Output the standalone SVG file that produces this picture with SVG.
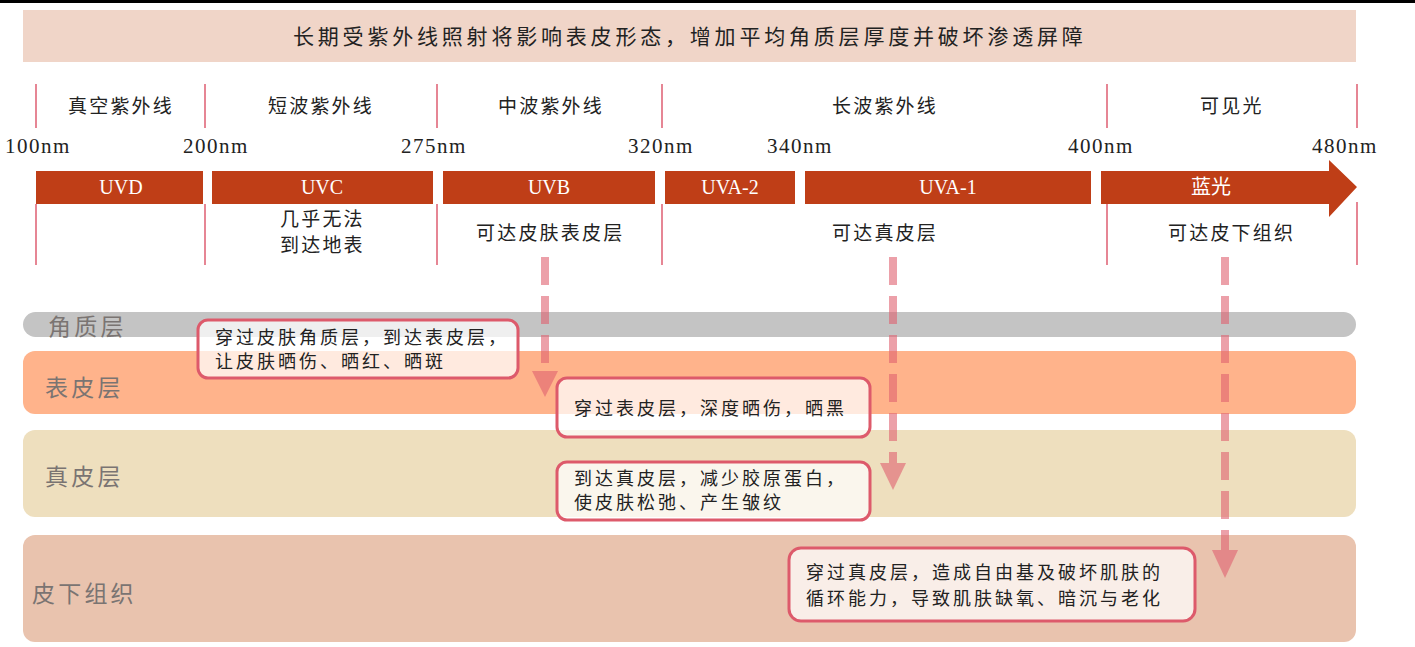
<svg xmlns="http://www.w3.org/2000/svg" width="1415" height="647" viewBox="0 0 1415 647">
<style>
.cn{font-family:"Noto Sans CJK SC","Liberation Serif",serif;fill:#222}
.num{font-family:"Liberation Serif",serif;fill:#222;font-size:21px;letter-spacing:1.5px;text-anchor:middle}
.bar{fill:#bf3e17}
.bl{font-family:"Liberation Serif","Noto Sans CJK SC",serif;fill:#fff;font-size:20px;text-anchor:middle}
.tick{stroke:#e0687a;stroke-width:1.6}
.hd{font-size:19px;letter-spacing:2.2px}
.lay{font-family:"Noto Sans CJK SC",serif;fill:#7a7472;font-size:23px;letter-spacing:3.2px}
.box{fill:#fff;fill-opacity:0.72;stroke:#dd5a6b;stroke-width:3}
.bt{font-size:18px;letter-spacing:3px}
.dash{stroke:#e06070;stroke-opacity:0.6;stroke-width:8;stroke-dasharray:28 11;fill:none}
.ah{fill:#e06070;fill-opacity:0.6}
</style>
<rect x="0" y="0" width="1415" height="3" fill="#000"/>
<g id="title">
<rect x="23" y="10" width="1333" height="52" fill="#f0d5c8"/>
<text class="cn" x="293" y="44" font-size="21" letter-spacing="3.8">长期受紫外线照射将影响表皮形态，增加平均角质层厚度并破坏渗透屏障</text>
</g>
<g id="ticks">
<line class="tick" x1="36" y1="84" x2="36" y2="128"/>
<line class="tick" x1="205" y1="84" x2="205" y2="128"/>
<line class="tick" x1="437" y1="84" x2="437" y2="128"/>
<line class="tick" x1="662" y1="84" x2="662" y2="128"/>
<line class="tick" x1="1107" y1="84" x2="1107" y2="128"/>
<line class="tick" x1="1357" y1="84" x2="1357" y2="128"/>
<line class="tick" x1="36" y1="204" x2="36" y2="265"/>
<line class="tick" x1="205" y1="204" x2="205" y2="265"/>
<line class="tick" x1="437" y1="204" x2="437" y2="265"/>
<line class="tick" x1="662" y1="204" x2="662" y2="265"/>
<line class="tick" x1="1107" y1="204" x2="1107" y2="265"/>
<line class="tick" x1="1357" y1="202" x2="1357" y2="265"/>
</g>
<g id="band-labels">
<text class="cn hd" x="68" y="113">真空紫外线</text>
<text class="cn hd" x="268" y="113">短波紫外线</text>
<text class="cn hd" x="498" y="113">中波紫外线</text>
<text class="cn hd" x="832" y="113">长波紫外线</text>
<text class="cn hd" x="1200" y="113">可见光</text>
</g>
<g id="wavelengths">
<text class="num" x="38" y="153">100nm</text>
<text class="num" x="216" y="153">200nm</text>
<text class="num" x="434" y="153">275nm</text>
<text class="num" x="661" y="153">320nm</text>
<text class="num" x="800" y="153">340nm</text>
<text class="num" x="1101" y="153">400nm</text>
<text class="num" x="1345" y="153">480nm</text>
</g>
<g id="uvd"><rect class="bar" x="36" y="171" width="167" height="33"/><text class="bl" x="121" y="194">UVD</text></g>
<g id="uvc"><rect class="bar" x="212" y="171" width="221" height="33"/><text class="bl" x="322" y="194">UVC</text>
<text class="cn hd" x="280" y="226">几乎无法</text><text class="cn hd" x="280" y="252">到达地表</text></g>
<g id="uvb"><rect class="bar" x="443" y="171" width="212" height="33"/><text class="bl" x="549" y="194">UVB</text>
<text class="cn hd" x="476" y="240">可达皮肤表皮层</text></g>
<g id="uva2"><rect class="bar" x="665" y="171" width="130" height="33"/><text class="bl" x="730" y="194">UVA-2</text></g>
<g id="uva1"><rect class="bar" x="805" y="171" width="286" height="33"/><text class="bl" x="948" y="194">UVA-1</text>
<text class="cn hd" x="832" y="240">可达真皮层</text></g>
<g id="blue"><polygon class="bar" points="1101,171 1329,171 1329,160 1357,187 1329,217 1329,204 1101,204"/><text class="bl" x="1211" y="194">蓝光</text>
<text class="cn hd" x="1168" y="240">可达皮下组织</text></g>
<g id="layer-stratum"><rect x="23" y="312" width="1333" height="25" rx="12.5" fill="#c4c4c4"/><text class="lay" x="48" y="335">角质层</text></g>
<g id="layer-epidermis"><rect x="23" y="351" width="1333" height="63" rx="12" fill="#ffb38b"/><text class="lay" x="45" y="396">表皮层</text></g>
<g id="layer-dermis"><rect x="23" y="430" width="1333" height="87" rx="12" fill="#eedfbe"/><text class="lay" x="45" y="485">真皮层</text></g>
<g id="layer-subcutis"><rect x="23" y="535" width="1333" height="107" rx="12" fill="#e9c3ae"/><text class="lay" x="32" y="602">皮下组织</text></g>
<g id="connectors">
<line class="dash" x1="545" y1="257" x2="545" y2="371"/>
<polygon class="ah" points="532,371 558,371 545,397"/>
<line class="dash" x1="893" y1="257" x2="893" y2="463"/>
<polygon class="ah" points="880,463 906,463 893,490"/>
<line class="dash" x1="1225" y1="257" x2="1225" y2="550"/>
<polygon class="ah" points="1212,550 1238,550 1225,578"/>
</g>
<g id="note-uvb"><rect class="box" x="198" y="320" width="320" height="58" rx="10"/>
<text class="cn bt" x="215" y="344">穿过皮肤角质层，到达表皮层，</text>
<text class="cn bt" x="215" y="368">让皮肤晒伤、晒红、晒斑</text></g>
<g id="note-uva2"><rect class="box" x="557" y="378" width="313" height="59" rx="10"/>
<text class="cn bt" x="574" y="415">穿过表皮层，深度晒伤，晒黑</text></g>
<g id="note-uva1"><rect class="box" x="557" y="462" width="313" height="58" rx="10"/>
<text class="cn bt" x="574" y="485">到达真皮层，减少胶原蛋白，</text>
<text class="cn bt" x="574" y="509">使皮肤松弛、产生皱纹</text></g>
<g id="note-blue"><rect class="box" x="789" y="548" width="406" height="73" rx="12"/>
<text class="cn bt" x="806" y="579">穿过真皮层，造成自由基及破坏肌肤的</text>
<text class="cn bt" x="806" y="605">循环能力，导致肌肤缺氧、暗沉与老化</text></g>
</svg>
